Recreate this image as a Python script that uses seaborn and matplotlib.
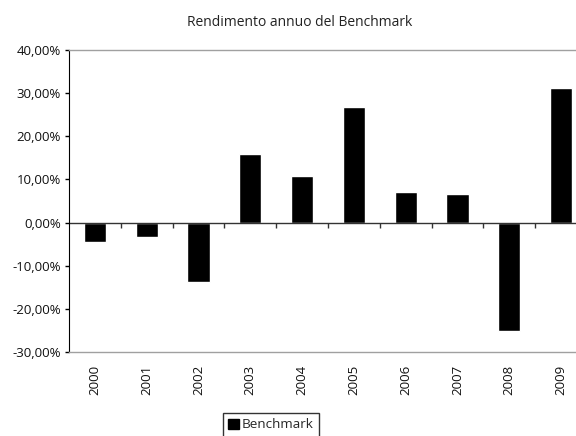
import pandas as pd
import matplotlib.pyplot as plt
import seaborn as sns
from matplotlib.ticker import FuncFormatter
from matplotlib.patches import Patch

years = ['2000', '2001', '2002', '2003', '2004', '2005', '2006', '2007', '2008', '2009']
returns = [-4.5, -3.4, -13.7, 16.0, 10.8, 26.8, 7.0, 6.6, -25.1, 31.1]
y_ticks = [-30, -20, -10, 0, 10, 20, 30, 40]

sns.set_style("white")
plt.rcParams['font.family'] = ['Open Sans', 'DejaVu Sans']

df = pd.DataFrame({'Anno': years, 'Rendimento': returns})

fig = plt.figure(figsize=(5.76, 4.36), dpi=100)
# plot area runs a bit past the right edge, like the original
ax = fig.add_axes([69 / 576, 84 / 436, 518 / 576, 302 / 436])
sns.barplot(data=df, x='Anno', y='Rendimento', color='black', width=0.43,
            saturation=1, ax=ax, errorbar=None)

ax.set_ylim(-30, 40)
ax.set_xlim(-0.5, len(years) - 0.5)
ax.set_yticks(y_ticks)
ax.yaxis.set_major_formatter(FuncFormatter(lambda v, p: f"{v:.2f}%".replace('.', ',')))
ax.tick_params(axis='y', left=True, length=3, width=1, color='black', pad=3,
               labelsize=9.5, labelcolor='#111111')
ax.tick_params(axis='x', bottom=False, length=0, pad=9, labelsize=9.5,
               labelcolor='#111111', labelrotation=90)
ax.set_xlabel('')
ax.set_ylabel('')

for side in ['top', 'bottom']:
    ax.spines[side].set_color('#a0a0a0')
    ax.spines[side].set_linewidth(1)
ax.spines['left'].set_color('black')
ax.spines['right'].set_visible(False)

# category axis crossing at zero, tick marks between categories
ax.axhline(0, color='#333333', linewidth=1, zorder=1)
ax.vlines([i + 0.5 for i in range(len(years))], 0, -1.15, color='#333333', linewidth=1)

ax.set_title('Rendimento annuo del Benchmark', fontsize=10, color='#222222', pad=17,
             x=(300 - 69) / 518)

leg = fig.legend(handles=[Patch(facecolor='black', edgecolor='black', label='Benchmark')],
                 loc='upper left', bbox_to_anchor=(223 / 576, (436 - 413) / 436),
                 bbox_transform=fig.transFigure, fontsize=9.7, frameon=True, fancybox=False,
                 handlelength=0.8, handleheight=0.8, handletextpad=0.2, borderpad=0.4,
                 borderaxespad=0)
leg.get_frame().set_edgecolor('black')
leg.get_frame().set_linewidth(1)

plt.savefig('out.png', dpi=100)
